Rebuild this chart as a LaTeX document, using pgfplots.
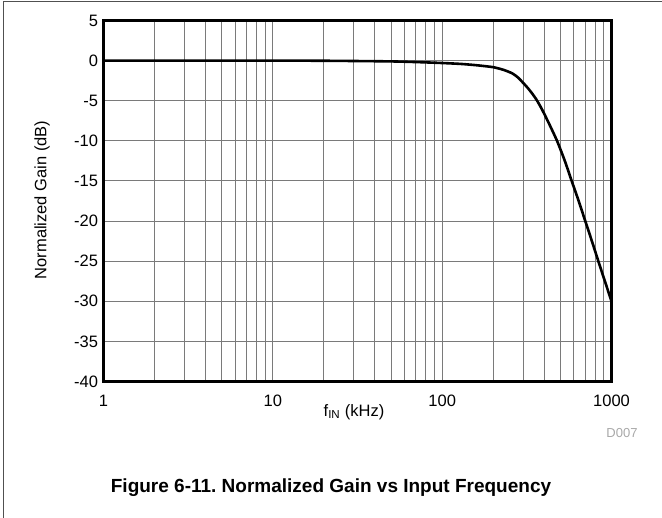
\documentclass[border=0pt]{standalone}
\usepackage{pgfplots}
\pgfplotsset{compat=1.18}
\usepackage{fontspec}
\setmainfont{Liberation Sans}
\frenchspacing

\definecolor{gridgray}{HTML}{7A7A7A}
\definecolor{framegray}{HTML}{505050}
\definecolor{tagray}{HTML}{A8A8A8}

\begin{document}
\begin{tikzpicture}[x=1pt,y=1pt]
    \useasboundingbox (0,0) rectangle (662,518);
    % outer frame (top and left only)
    \draw[framegray, line width=1pt] (662,516) -- (3,516) -- (3,0);

    \begin{axis}[
        at={(103.5pt,136.5pt)},
        anchor=south west,
        scale only axis,
        width=508pt,
        height=361pt,
        xmode=log,
        xmin=1, xmax=1000,
        ymin=-40, ymax=5,
        xtick={1,10,100,1000},
        xticklabels={1,10,100,1000},
        ytick={-40,-35,-30,-25,-20,-15,-10,-5,0,5},
        yticklabels={-40,-35,-30,-25,-20,-15,-10,-5,0,5},
        major tick length=0pt,
        minor tick length=0pt,
        grid=both,
        major grid style={gridgray, line width=0.9pt},
        minor grid style={gridgray, line width=0.9pt},
        axis line style={black, line width=2.6pt},
        tick label style={font=\fontsize{16.5}{19}\selectfont},
        xticklabel style={yshift=-10pt},
        yticklabel style={xshift=-2pt},
        clip=false
    ]
        \addplot[black, line width=2.6pt, line join=round, smooth, tension=0.4] coordinates {
            (1,0) (10,0) (20,-0.02) (30,-0.05) (50,-0.1) (70,-0.18)
            (100,-0.3) (130,-0.42) (160,-0.58) (200,-0.82) (230,-1.15)
            (260,-1.6) (280,-2.1) (300,-2.75) (320,-3.4) (340,-4.1)
            (360,-4.85) (380,-5.7) (400,-6.6) (440,-8.4) (479,-10.1)
            (530,-12.5) (582,-15) (640,-17.5) (700,-20)
            (766,-22.5) (836,-25) (914,-27.5) (1000,-30)
        };
    \end{axis}

    \node[font=\fontsize{16.5}{19}\selectfont] at (354,106) {f\textsubscript{IN} (kHz)};
    \node[font=\fontsize{16.5}{19}\selectfont, rotate=90] at (42,318) {Normalized Gain (dB)};
    \node[font=\fontsize{13}{15}\selectfont, text=tagray] at (622,85) {D007};
    \node[font=\bfseries\fontsize{19}{22}\selectfont] at (331,30) {Figure 6-11. Normalized Gain vs Input Frequency};
\end{tikzpicture}
\end{document}
